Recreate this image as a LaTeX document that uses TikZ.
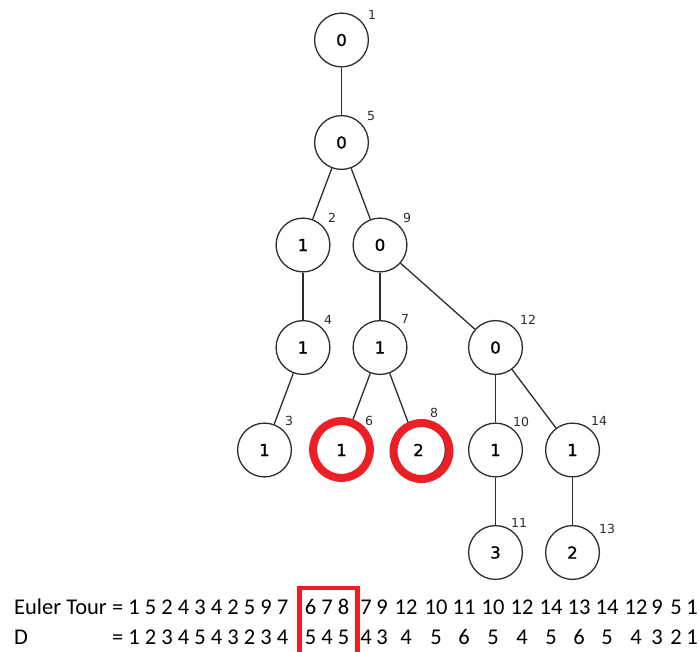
\documentclass[tikz,border=0pt]{standalone}
\usepackage{fontspec}
\setmainfont{Carlito}
\newfontfamily\dvs{DejaVu Sans}
\newfontfamily\dvsb[FakeBold=1.2]{DejaVu Sans}
\definecolor{ringred}{RGB}{236,30,38}
\definecolor{ink}{RGB}{45,45,45}
\begin{document}
\begin{tikzpicture}[x=1pt,y=-1pt,
  tnode/.style={circle,draw=ink,line width=1.3pt,minimum size=53.8pt,inner sep=0pt,font=\dvsb\fontsize{16.5}{18}\selectfont},
  edge/.style={draw=ink,line width=1.3pt},
  idx/.style={inner sep=0pt,text=ink,font=\dvs\fontsize{12.5}{14}\selectfont},
  redring/.style={draw=ringred,line width=8pt},
  tok/.style={inner sep=0pt,anchor=base,font=\fontsize{22.5}{26}\selectfont},
  tokw/.style={inner sep=0pt,anchor=base west,font=\fontsize{22.5}{26}\selectfont}]
\useasboundingbox (0,0) rectangle (699,651);
\fill[white] (0,0) rectangle (699,651);
% tree nodes
\node[tnode] (n1) at (341.5,40) {0};
\node[tnode] (n5) at (341.5,142.5) {0};
\node[tnode] (n2) at (303,245) {1};
\node[tnode] (n9) at (380,245) {0};
\node[tnode] (n4) at (303,347.5) {1};
\node[tnode] (n7) at (380,347.5) {1};
\node[tnode] (n12) at (495.5,347.5) {0};
\node[tnode] (n3) at (264.5,450) {1};
\node[tnode] (n6) at (341.5,450) {1};
\node[tnode] (n8) at (418.5,450) {2};
\node[tnode] (n10) at (495.5,450) {1};
\node[tnode] (n14) at (572.5,450) {1};
\node[tnode] (n11) at (495.5,552.5) {3};
\node[tnode] (n13) at (572.5,552.5) {2};
% edges
\draw[edge] (n1) -- (n5);
\draw[edge] (n5) -- (n2);
\draw[edge] (n5) -- (n9);
\draw[edge] (n2) -- (n4);
\draw[edge] (n4) -- (n3);
\draw[edge] (n9) -- (n7);
\draw[edge] (n9) -- (n12);
\draw[edge] (n7) -- (n6);
\draw[edge] (n7) -- (n8);
\draw[edge] (n12) -- (n10);
\draw[edge] (n12) -- (n14);
\draw[edge] (n10) -- (n11);
\draw[edge] (n14) -- (n13);
% red highlight rings
\draw[redring] (341.5,449.5) circle[radius=28.4pt];
\draw[redring] (421.5,451) circle[radius=28pt];
% index labels
\node[idx] (l1) at (372,15) {1};
\node[idx] (l5) at (371,116) {5};
\node[idx] (l2) at (332,218) {2};
\node[idx] (l9) at (407,218) {9};
\node[idx] (l4) at (328,320) {4};
\node[idx] (l7) at (405,319) {7};
\node[idx] (l12) at (528,320) {12};
\node[idx] (l3) at (289,421) {3};
\node[idx] (l6) at (369,421) {6};
\node[idx] (l8) at (434,413) {8};
\node[idx] (l10) at (521,422) {10};
\node[idx] (l14) at (599,421) {14};
\node[idx] (l11) at (519,523) {11};
\node[idx] (l13) at (607,529) {13};
% sequences
\node[tokw] (et) at (14,614) {Euler Tour};
\node[tokw] (dl) at (14,644) {D};
\node[tokw] (etl) at (112,614) {= 1 5 2 4 3 4 2 5 9 7};
\node[tokw] (dll) at (112,644) {= 1 2 3 4 5 4 3 2 3 4};
\node[tok] (etm) at (327,614) {6 7 8};
\node[tok] (dm) at (327,644) {5 4 5};
\foreach \x/\a/\b [count=\i] in {366/7/4,382/9/3,406/12/4,436/10/5,464/11/6,493/10/5,522/12/4,551/14/5,579/13/6,607/14/5,636/12/4,657/9/3,676/5/2,692/1/1}{
  \node[tok] (e\i) at (\x,614) {\a};
  \node[tok] (d\i) at (\x,644) {\b};
}
% red box
\draw[draw=ringred,line width=4.5pt] (299.5,660) -- (299.5,588) -- (357.5,588) -- (357.5,660);
\end{tikzpicture}
\end{document}
